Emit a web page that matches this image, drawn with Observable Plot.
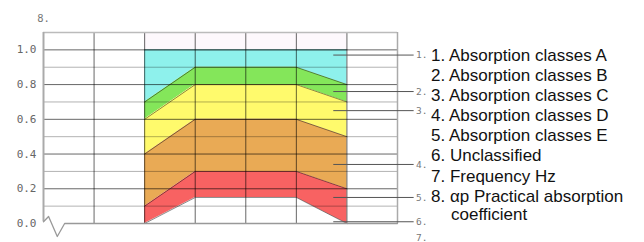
<!DOCTYPE html>
<html><head><meta charset="utf-8">
<script src="https://cdn.jsdelivr.net/npm/d3@7"></script>
<script src="https://cdn.jsdelivr.net/npm/@observablehq/plot@0.6"></script>
<style>
body{margin:0;background:#fff;}
#wrap{position:relative;width:644px;height:242px;}
#legend{position:absolute;left:431px;top:46px;font-family:"Liberation Sans",Arial,sans-serif;font-size:17px;line-height:20.1px;color:#111;white-space:nowrap;}
#legend div.cont{padding-left:20px;line-height:15px;}
</style></head><body><div id="wrap"><div id="legend"></div></div>
<script>
const frequencies = [250, 500, 1000, 2000, 4000];
const tickFrequencies = [125, 250, 500, 1000, 2000, 4000];
const tickLabels = ["125", "250", "500", "1000", "2000", "4000"];
const topBand = [1.1, 1.1, 1.1, 1.1, 1.1];
const upperLimit = [1.0, 1.0, 1.0, 1.0, 1.0];
const classA = [0.7, 0.9, 0.9, 0.9, 0.8];
const classB = [0.6, 0.8, 0.8, 0.8, 0.7];
const classC = [0.4, 0.6, 0.6, 0.6, 0.5];
const classD = [0.1, 0.3, 0.3, 0.3, 0.2];
const classE = [0.0, 0.15, 0.15, 0.15, 0.0];
const classColors = ["#8ef1ec", "#84e65a", "#fffa6c", "#e9aa55", "#f86262"];
const yTicks = [0, 0.2, 0.4, 0.6, 0.8, 1.0];
const yMinor = [0.1, 0.3, 0.5, 0.7, 0.9];
const leaderValues = [0.97, 0.76, 0.65, 0.34, 0.15, 0.01];
const leaderLabels = ["1.", "2.", "3.", "4.", "5.", "6."];
const legendItems = ["1. Absorption classes A", "2. Absorption classes B", "3. Absorption classes C",
  "4. Absorption classes D", "5. Absorption classes E", "6. Unclassified", "7. Frequency Hz",
  "8. \u03b1p Practical absorption"];
const legendContinuation = "coefficient";
// axis break (zigzag) path in data space
const breakX = [62.5, 67, 75.5, 83.5, 8000];
const breakY = [0.01, 0.04, -0.075, 0, 0];

const uppers = [upperLimit, classA, classB, classC, classD];
const lowers = [classA, classB, classC, classD, classE];
const bands = uppers.map((up, i) => frequencies.map((f, j) => ({f, y1: lowers[i][j], y2: up[j]})));
const topRows = frequencies.map((f, j) => ({f, y1: upperLimit[j], y2: topBand[j]}));
const curves = [upperLimit, classA, classB, classC, classD, classE];
const breakRows = breakX.map((x, i) => ({x, y: breakY[i]}));
const leaderStart = 3340, leaderEnd = 10050, leaderText = 10300;

const marks = [];
marks.push(Plot.areaY(topRows, {x: "f", y1: "y1", y2: "y2", fill: "#fdf8fc"}));
bands.forEach((rows, i) => marks.push(Plot.areaY(rows, {x: "f", y1: "y1", y2: "y2", fill: classColors[i]})));
curves.forEach(c => marks.push(Plot.line(frequencies.map((f, j) => ({f, y: c[j]})), {x: "f", y: "y", stroke: "#000", strokeOpacity: 0.45, strokeWidth: 1})));
// grid
marks.push(Plot.ruleY(yMinor, {x1: 62.5, x2: 8000, stroke: "#000", strokeOpacity: 0.3, strokeWidth: 1}));
marks.push(Plot.ruleY(yTicks.filter(d => d > 0), {x1: 62.5, x2: 8000, stroke: "#000", strokeOpacity: 0.6, strokeWidth: 1}));
marks.push(Plot.ruleX(tickFrequencies, {y1: 0, y2: 1.1, stroke: "#000", strokeOpacity: 0.6, strokeWidth: 1}));
// frame
marks.push(Plot.ruleY([1.1], {x1: 62.5, x2: 8000, stroke: "#bbb", strokeWidth: 1.5}));
marks.push(Plot.ruleX([62.5], {y1: 0.01, y2: 1.1, stroke: "#aaa", strokeWidth: 2}));
marks.push(Plot.ruleX([8000], {y1: 0, y2: 1.1, stroke: "#aaa", strokeWidth: 1.5}));
marks.push(Plot.line(breakRows, {x: "x", y: "y", stroke: "#999", strokeWidth: 1.3}));
// leaders
marks.push(Plot.ruleY(leaderValues, {x1: leaderStart, x2: leaderEnd, stroke: "#555", strokeWidth: 1}));
marks.push(Plot.text(leaderLabels, {x: leaderText, y: (d, i) => leaderValues[i], text: d => d, textAnchor: "start", fontSize: 9.5, fill: "#777"}));
marks.push(Plot.text(["7."], {x: leaderText, y: -0.085, text: d => d, textAnchor: "start", fontSize: 9.5, fill: "#777"}));
marks.push(Plot.text(["8."], {x: 62.5, y: 1.18, text: d => d, textAnchor: "middle", fontSize: 10.5, fill: "#777"}));
// axes
marks.push(Plot.axisY({ticks: yTicks, tickFormat: d3.format(".1f"), tickSize: 0, tickPadding: 7, fontSize: 11, fill: "#666"}));
marks.push(Plot.axisX({ticks: tickFrequencies, tickFormat: (d, i) => tickLabels[i], tickSize: 0, tickPadding: 12, fontSize: 11, fill: "#666"}));

const chart = Plot.plot({
  width: 644, height: 242,
  marginLeft: 43, marginRight: 247, marginTop: 32, marginBottom: 19,
  x: {type: "log", base: 2, domain: [62.5, 8000]},
  y: {domain: [0, 1.1]},
  style: {fontFamily: "'DejaVu Sans Mono', monospace", background: "transparent", overflow: "visible"},
  marks
});
const wrap = document.getElementById("wrap");
wrap.insertBefore(chart, wrap.firstChild);
const legend = document.getElementById("legend");
legendItems.forEach(t => { const d = document.createElement("div"); d.textContent = t; legend.appendChild(d); });
const c = document.createElement("div"); c.className = "cont"; c.textContent = legendContinuation; legend.appendChild(c);
</script></body></html>
